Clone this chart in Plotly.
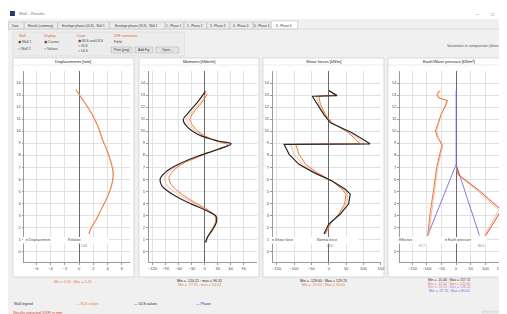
import plotly.graph_objects as go

W, H = 507, 314
FONT = "Liberation Sans"

# ---------------- data ----------------
y_ticks = list(range(0, 15))

# Displacements [mm]
disp_y = [13.45, 12.62, 11.79, 10.96, 10.13, 9.30, 8.47, 7.51, 6.54, 5.85, 5.02, 4.20, 3.37, 2.54, 1.85, 1.43]
disp_x = [-0.47, 0.46, 1.39, 2.17, 2.78, 3.24, 3.84, 4.39, 4.76, 4.67, 4.30, 3.70, 3.00, 2.30, 1.60, 1.39]
disp_rel_x = [-0.40, 0.55, 1.50, 2.25, 2.85, 3.30, 3.90, 4.45, 4.80, 4.70, 4.32, 3.72, 3.02, 2.32, 1.62, 1.40]
disp_ticks = [-6, -4, -2, 0, 2, 4, 6]

# Moments [kNm/m]
mom_y_b = [13.31, 12.48, 11.51, 10.96, 10.41, 9.72, 9.17, 8.94, 8.47, 7.92, 7.23, 6.54, 5.99, 5.44, 4.61, 3.92, 3.31, 2.87, 2.40, 1.85, 1.16, 0.74]
mom_x_b = [1.6, -15.2, -38.0, -49.5, -41.9, -15.2, 30.7, 61.0, 30.7, -15.2, -61.0, -91.6, -103.0, -99.0, -68.7, -30.5, 7.8, 26.8, 26.8, 19.2, 6.2, 1.6]
mom_y_o = [13.09, 12.34, 11.51, 10.96, 10.41, 9.77, 9.17, 8.84, 8.47, 7.84, 7.23, 6.54, 6.13, 5.57, 4.75, 4.06, 3.42, 2.96, 2.40, 1.77, 1.16, 0.74]
mom_x_o = [6.2, -7.6, -26.6, -34.3, -26.6, -7.6, 26.8, 53.6, 26.8, -15.1, -53.4, -76.3, -82.4, -77.9, -53.4, -22.9, 7.8, 22.9, 24.5, 15.3, 6.2, 3.9]
mom_y_p = [13.20, 12.40, 11.50, 10.96, 10.40, 9.75, 9.17, 8.90, 8.47, 7.88, 7.23, 6.54, 6.05, 5.50, 4.70, 4.00, 3.38, 2.92, 2.40, 1.80, 1.16, 0.74]
mom_x_p = [4.0, -10.0, -32.0, -42.0, -33.0, -10.0, 28.0, 58.0, 28.0, -15.0, -57.0, -85.0, -92.0, -88.0, -60.0, -26.0, 8.0, 25.0, 26.0, 17.0, 6.0, 3.0]
mom_ticks = [-120, -90, -60, -30, 0, 30, 60, 90, 120]

# Shear forces [kN/m]
sh_y_b = [13.37, 12.95, 12.90, 12.20, 11.37, 10.69, 9.86, 8.94, 8.89, 8.06, 7.23, 6.54, 5.85, 5.16, 4.75, 3.92, 3.09, 2.26, 1.43]
sh_x_b = [0.0, 24.0, -47.4, -33.0, -14.0, 4.9, 66.9, 119.0, -128.6, -114.0, -85.7, -42.9, 9.7, 47.7, 62.0, 57.0, 33.4, 0.0, -14.0]
sh_y_o = [13.37, 12.98, 12.90, 12.20, 11.37, 10.69, 9.86, 8.94, 8.89, 8.06, 7.23, 6.54, 5.85, 5.16, 4.75, 3.92, 3.09, 2.26, 1.43]
sh_x_o = [0.0, 19.0, -28.6, -23.7, -9.4, 9.7, 57.0, 90.6, -95.0, -85.7, -66.6, -33.0, 9.7, 38.0, 49.7, 45.7, 28.6, 4.9, -9.4]
sh_x_p = [2.0, 21.0, -36.0, -28.0, -11.0, 7.0, 61.0, 104.0, -110.0, -100.0, -76.0, -38.0, 9.0, 42.0, 55.0, 51.0, 31.0, 2.5, -11.5]
sh_ticks = [-150, -100, -50, 0, 50, 100, 150]

# Earth / water pressure [kN/m2]
ep_left_y = [13.37, 13.04, 12.76, 12.54, 12.07, 11.38, 10.55, 10.00, 9.45, 8.84, 8.20, 6.96, 5.02, 3.09, 1.30]
ep_left_x = [-57.6, -66.9, -60.0, -29.0, -36.9, -51.7, -63.4, -71.4, -63.4, -48.3, -55.2, -67.0, -78.0, -89.7, -97.7]
ep_left_xp = [-54.0, -63.0, -56.0, -33.0, -39.0, -52.0, -61.0, -67.0, -60.0, -46.0, -52.0, -63.0, -74.0, -86.0, -95.0]
ep_right_y = [7.10, 6.35, 5.02, 3.43, 2.26, 1.30]
ep_right_x = [0.0, 9.0, 80.0, 155.0, 126.0, 101.0]
ep_right_xp = [0.0, 6.0, 74.0, 146.0, 120.0, 97.0]
wp_left_y = [13.40, 7.23, 1.30]
wp_left_x = [0.0, 0.0, -97.7]
wp_right_y = [7.23, 1.30]
wp_right_x = [0.0, 80.0]
ep_ticks = [-150, -100, -50, 0, 50, 100, 150]

ORANGE = "#ef7a3c"
PINK = "#f5a98c"
BLACK = "#262626"
BLUE = "#6f6fd8"
PURPLE = "#b58ad8"


def px(x):
    return x / W


def py(y):
    return 1 - y / H


fig = go.Figure()

# panel geometry (pixels)
panels = [
    dict(box=(5, 50, 127, 269), plot=(16.5, 123), rng=[-7.67, 7.13], ticks=disp_ticks,
         title="Displacements [mm]"),
    dict(box=(132, 50, 253, 269), plot=(141.7, 250.5), rng=[-129.6, 119.5], ticks=mom_ticks,
         title="Moments [kNm/m]"),
    dict(box=(257, 50, 379, 269), plot=(266.7, 376), rng=[-161.7, 150.6], ticks=sh_ticks,
         title="Shear forces [kN/m]"),
    dict(box=(383, 50, 506, 269), plot=(395, 503), rng=[-193.0, 174.5], ticks=ep_ticks,
         title="Earth/Water pressure [kN/m²]"),
]
plot_top, plot_bot = 63, 254

shapes = []
annotations = []


def text(x, y, s, size=4, color="#333", xanchor="left", yanchor="middle", **kw):
    annotations.append(dict(x=px(x), y=py(y), xref="paper", yref="paper", text=s, showarrow=False,
                            font=dict(size=size, color=color, family=FONT),
                            xanchor=xanchor, yanchor=yanchor, **kw))


def rect(x0, y0, x1, y1, fill, line="#c8c8c8", lw=0.6, layer="below"):
    shapes.append(dict(type="rect", xref="paper", yref="paper", x0=px(x0), y0=py(y1), x1=px(x1), y1=py(y0),
                       fillcolor=fill, line=dict(color=line, width=lw), layer=layer))


# window chrome
rect(0, 0, 507, 11, "#ffffff", line="#ffffff", lw=0)
rect(2, 3, 7, 8, "#2a3a6a", line="#2a3a6a", lw=0)
text(9, 5.5, "Wall – Results", size=4, color="#777")
text(470, 5.5, "–", size=5, color="#777")
text(485, 5.5, "□", size=5, color="#777")
text(499, 5.5, "×", size=5, color="#777")

rect(0, 11, 507, 314, "#f0f0f0", line="#f0f0f0", lw=0)
tabs = [(0, 16, "Data"), (16, 50, "Results (summary)"), (50, 102, "Envelope phases (ULS) - Wall 1"),
        (102, 158, "Envelope phases (SLS) - Wall 1"), (158, 177, "1 - Phase 1"), (177, 200, "2 - Phase 2"),
        (200, 223, "3 - Phase 3"), (223, 247, "4 - Phase 4"), (247, 265, "5 - Phase 5"), (265, 292, "6 - Phase 6")]
for i, (a, b, s) in enumerate(tabs):
    active = i == len(tabs) - 1
    rect(a + 0.5, 13 if active else 14, b, 21, "#ffffff" if active else "#ececec", line="#b9b9b9", lw=0.5)
    text((a + b) / 2, 17.5, s, size=3, color="#333", xanchor="center")
shapes.append(dict(type="line", xref="paper", yref="paper", x0=0, x1=1, y0=py(21), y1=py(21),
                   line=dict(color="#c9c9c9", width=0.5)))

# options group
rect(5, 24, 178, 48, "#ececec", line="#d5d5d5", lw=0.5)
text(9, 28, "Wall", size=3.5, color="#d9622b")
text(34, 28, "Display", size=3.5, color="#d9622b")
text(68, 28, "Case", size=3.5, color="#d9622b")
text(105, 28, "DXF extraction", size=3.5, color="#d9622b")
text(8, 34, "◉ Wall 1", size=3.5, color="#444")
text(8, 41, "○ Wall 2", size=3.5, color="#444")
text(34, 34, "◉ Curves", size=3.5, color="#444")
text(34, 41, "○ Values", size=3.5, color="#444")
text(69, 33, "◉ SLS and ULS", size=3.5, color="#444")
text(69, 38, "○ SLS", size=3.5, color="#444")
text(69, 43, "○ ULS", size=3.5, color="#444")
text(105, 34, "Field", size=3.5, color="#444")
for a, b, s in [(104, 125, "Print (png)"), (128, 146, "Add Fig"), (149, 172, "Open...")]:
    rect(a, 39, b, 45, "#e3e3e3", line="#adadad", lw=0.5)
    text((a + b) / 2, 42, s, size=3.3, color="#333", xanchor="center")
text(505, 38, "Variations in comparison (direction)", size=3.8, color="#555", xanchor="right")

# panels
for i, p in enumerate(panels):
    bx0, by0, bx1, by1 = p["box"]
    rect(bx0, by0, bx1, by1, "#ffffff", line="#c3c3c3", lw=0.6)
    shapes.append(dict(type="line", xref="paper", yref="paper", x0=px(bx0), x1=px(bx1), y0=py(57), y1=py(57),
                       line=dict(color="#d8d8d8", width=0.5)))
    text((bx0 + bx1) / 2, 53.5, p["title"], size=4, color="#222", xanchor="center")
    n = "" if i == 0 else str(i + 1)
    x0, x1 = p["plot"]
    fig.layout["xaxis" + n] = dict(domain=[px(x0), px(x1)], range=p["rng"], anchor="y" + n,
                                   tickvals=p["ticks"], tickfont=dict(size=4, family=FONT, color="#444"),
                                   showgrid=True, gridcolor="#e1e1e1", gridwidth=0.5,
                                   zeroline=True, zerolinecolor="#6a6a6a", zerolinewidth=1,
                                   showline=True, linecolor="#9a9a9a", linewidth=0.6,
                                   ticks="outside", ticklen=2, tickcolor="#999", fixedrange=True)
    fig.layout["yaxis" + n] = dict(domain=[py(plot_bot), py(plot_top)], range=[-0.9, 15.0], anchor="x" + n,
                                   tickvals=y_ticks, tickfont=dict(size=4, family=FONT, color="#444"),
                                   showgrid=True, gridcolor="#e1e1e1", gridwidth=0.5, zeroline=False,
                                   showline=True, linecolor="#9a9a9a", linewidth=0.6,
                                   ticks="outside", ticklen=2, tickcolor="#999", fixedrange=True)


def add(x, y, color, ax, width=1.0, shape="spline"):
    n = "" if ax == 1 else str(ax)
    fig.add_trace(go.Scatter(x=x, y=y, mode="lines", line=dict(color=color, width=width, shape=shape),
                             xaxis="x" + n, yaxis="y" + n, showlegend=False, hoverinfo="skip"))


# panel 1
add(disp_rel_x, disp_y, PINK, 1, 0.8)
add(disp_x, disp_y, ORANGE, 1, 1.0)
# panel 2
add(mom_x_p, mom_y_p, PINK, 2, 0.8)
add(mom_x_o, mom_y_o, ORANGE, 2, 1.0)
add(mom_x_b, mom_y_b, BLACK, 2, 1.2)
# panel 3
add(sh_x_p, sh_y_o, PINK, 3, 0.8, "linear")
add(sh_x_o, sh_y_o, ORANGE, 3, 1.0, "linear")
add(sh_x_b, sh_y_b, BLACK, 3, 1.2, "linear")
# panel 4
add(wp_left_x, wp_left_y, BLUE, 4, 0.9, "linear")
add(wp_right_x, wp_right_y, BLUE, 4, 0.9, "linear")
add(ep_left_xp, ep_left_y, PINK, 4, 0.8, "linear")
add(ep_left_x, ep_left_y, ORANGE, 4, 1.0, "linear")
add(ep_right_xp, ep_right_y, PINK, 4, 0.8, "linear")
add(ep_right_x, ep_right_y, "#e0552a", 4, 1.0, "linear")

# in-plot legends (white strips)
def strip(x0, x1, items):
    rect(x0, 229, x1, 235.5, "#ffffff", line="#ffffff", lw=0, layer="above")
    for (xx, sym, s, c) in items:
        text(xx, 232.3, f"<span style='color:{c}'>{sym}</span> {s}", size=3.5, color="#444")

strip(15, 102, [(16, "■", "Displacement", ORANGE), (55, "□", "Relative", PINK)])
strip(263, 353, [(264, "■", "Shear force", ORANGE), (306, "□", "Normal force", PINK)])
strip(388, 482, [(389, "□", "Effective", PINK), (438, "■", "Earth pressure", ORANGE)])

text(77, 238, "1.43", size=3, color="#777", xanchor="center")
text(324, 238, "-14.0", size=3, color="#777", xanchor="center")
text(417, 238, "-97.7", size=3, color="#777", xanchor="center")
text(477, 238, "80.0", size=3, color="#777", xanchor="center")

# min / max texts
text(66, 274, "Min = 0.00 ; Max = 5.21", size=3.6, color=ORANGE, xanchor="center")
text(193, 273, "Min = -120.21 ; max = 96.31", size=3.6, color=BLACK, xanchor="center")
text(193, 277, "Min = -77.95 ; max = 54.24", size=3.6, color=ORANGE, xanchor="center")
text(318, 273, "Min = -128.60 ; Max = 129.70", size=3.6, color=BLACK, xanchor="center")
text(318, 277, "Min = -95.00 ; Max = 90.60", size=3.6, color=ORANGE, xanchor="center")
text(445, 272, "Min = -15.00 ; Max = 157.72", size=3.4, color=BLACK, xanchor="center")
text(445, 275.5, "Min = -12.00 ; Max = 120.00", size=3.4, color=ORANGE, xanchor="center")
text(445, 279, "Min = -13.50 ; Max = 146.00", size=3.4, color=PURPLE, xanchor="center")
text(445, 282.5, "Min = -97.70 ; Max = 80.00", size=3.4, color=BLUE, xanchor="center")

# bottom legend
text(4, 296, "Wall legend", size=3.6, color="#333")
text(67, 296, "— SLS values", size=3.6, color=ORANGE)
text(125, 296, "— ULS values", size=3.6, color=BLACK)
text(187, 296, "— Phase", size=3.6, color="#2b2bb8")
text(3, 305, "Results extracted (DXF) in mm", size=3.6, color="#e03a2a")
rect(478, 303, 505, 309, "#e6e6e6", line="#c8c8c8", lw=0.4)

fig.update_layout(width=W, height=H, margin=dict(l=0, r=0, t=0, b=0),
                  paper_bgcolor="#ffffff", plot_bgcolor="#f5f5f5",
                  shapes=shapes, annotations=annotations, showlegend=False,
                  font=dict(family=FONT, size=4))

fig.write_html("out.html", config={"displayModeBar": False})
